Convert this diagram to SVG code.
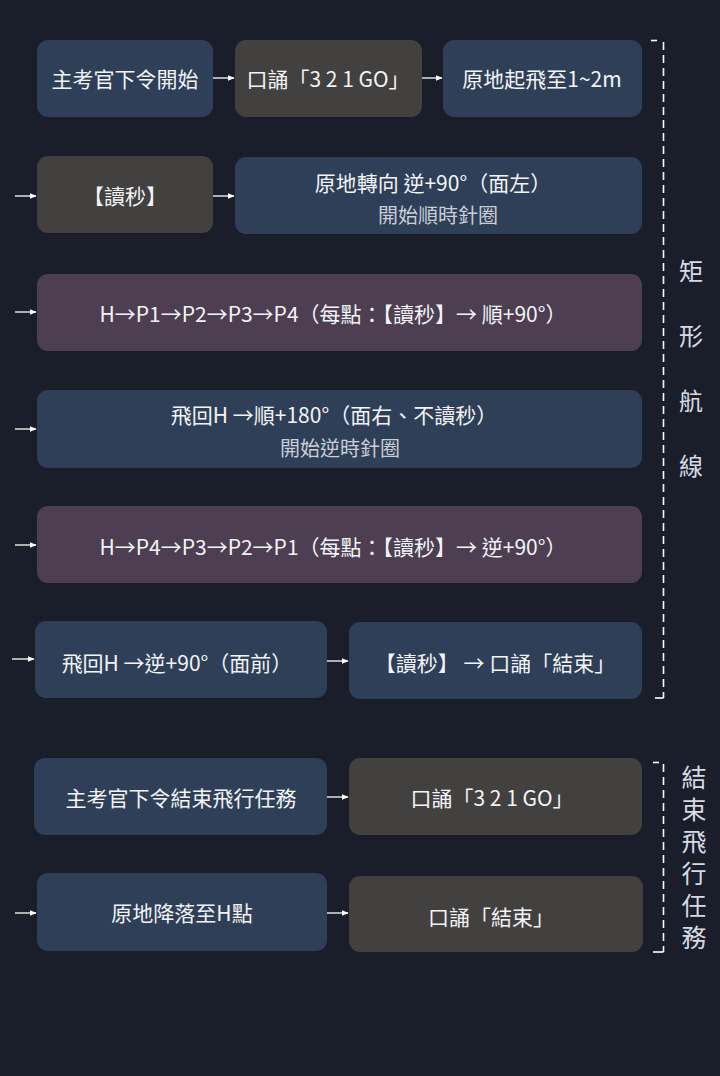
<svg xmlns="http://www.w3.org/2000/svg" width="720" height="1076" viewBox="0 0 720 1076">
<defs>
<marker id="ah" viewBox="0 0 10 10" refX="9" refY="5" markerWidth="7" markerHeight="7" markerUnits="userSpaceOnUse" orient="auto">
<path d="M0,1 L10,5 L0,9 z" fill="#ffffff"/>
</marker>
<style>
.b{fill:#2e3f57}
.g{fill:#434040}
.p{fill:#4d3f51}
text{font-family:"Microsoft JhengHei","Noto Sans CJK TC","Noto Sans",sans-serif;fill:#f2f4f7;font-size:21px;text-anchor:middle;dominant-baseline:central}
.sub{fill:#c9ced8;font-size:20px}
.vert{writing-mode:vertical-rl;text-anchor:start;dominant-baseline:auto;fill:#d6dae2}
.side{font-size:24px;letter-spacing:41px}
.side2{font-size:25px;letter-spacing:7px}
.c line{stroke:#ffffff;stroke-width:1.3;marker-end:url(#ah)}
.br{stroke:#ffffff;stroke-width:1.6;fill:none}
.dash{stroke-dasharray:8,5}
</style>
</defs>
<rect width="720" height="1076" fill="#1a1d2a"/>

<g id="n1"><rect class="b" x="37" y="40" width="176" height="77" rx="11"/><text x="125" y="78">主考官下令開始</text></g>
<g id="n2"><rect class="g" x="235" y="40" width="187" height="77" rx="11"/><text x="328" y="78">口誦「3 2 1 GO」</text></g>
<g id="n3"><rect class="b" x="443" y="40" width="199" height="77" rx="11"/><text x="542" y="78">原地起飛至1~2m</text></g>

<g id="n4"><rect class="g" x="37" y="156" width="176" height="77" rx="11"/><text x="125" y="195">【讀秒】</text></g>
<g id="n5"><rect class="b" x="235" y="157" width="407" height="77" rx="11"/><text x="433" y="182">原地轉向 逆+90°（面左）</text><text class="sub" x="438" y="214">開始順時針圈</text></g>

<g id="n6"><rect class="p" x="37" y="274" width="605" height="77" rx="11"/><text x="333" y="313">H→P1→P2→P3→P4（每點：【讀秒】→ 順+90°）</text></g>

<g id="n7"><rect class="b" x="37" y="390" width="605" height="78" rx="11"/><text x="334" y="414">飛回H →順+180°（面右、不讀秒）</text><text class="sub" x="340" y="447">開始逆時針圈</text></g>

<g id="n8"><rect class="p" x="37" y="506" width="605" height="77" rx="11"/><text x="333" y="546">H→P4→P3→P2→P1（每點：【讀秒】→ 逆+90°）</text></g>

<g id="n9"><rect class="b" x="35" y="621" width="292" height="77" rx="11"/><text x="177" y="662">飛回H →逆+90°（面前）</text></g>
<g id="n10"><rect class="b" x="349" y="622" width="293" height="77" rx="11"/><text x="495" y="662">【讀秒】 → 口誦「結束」</text></g>

<g id="n11"><rect class="b" x="34" y="758" width="293" height="77" rx="11"/><text x="181" y="797">主考官下令結束飛行任務</text></g>
<g id="n12"><rect class="g" x="349" y="758" width="293" height="77" rx="11"/><text x="492" y="797">口誦「3 2 1 GO」</text></g>

<g id="n13"><rect class="b" x="37" y="873" width="290" height="78" rx="11"/><text x="182" y="912">原地降落至H點</text></g>
<g id="n14"><rect class="g" x="349" y="876" width="294" height="76" rx="11"/><text x="491" y="916">口誦「結束」</text></g>

<g id="connectors" class="c">
<line x1="213" y1="78" x2="234" y2="78"/>
<line x1="422" y1="78" x2="442" y2="78"/>
<line x1="15" y1="196" x2="36" y2="196"/>
<line x1="213" y1="196" x2="234" y2="196"/>
<line x1="15" y1="312" x2="36" y2="312"/>
<line x1="15" y1="429" x2="36" y2="429"/>
<line x1="15" y1="545" x2="36" y2="545"/>
<line x1="12" y1="659" x2="34" y2="659"/>
<line x1="327" y1="661" x2="348" y2="661"/>
<line x1="327" y1="797" x2="348" y2="797"/>
<line x1="15" y1="913" x2="36" y2="913"/>
<line x1="327" y1="913" x2="348" y2="913"/>
</g>

<g id="bracket1">
<line class="br" x1="651" y1="40.5" x2="657" y2="40.5"/>
<line class="br dash" x1="663.5" y1="42" x2="663.5" y2="698"/>
<line class="br" x1="655" y1="698" x2="663.5" y2="698"/>
<text class="vert side" x="691" y="259">矩形航線</text>
</g>

<g id="bracket2">
<line class="br" x1="653" y1="762.5" x2="659" y2="762.5"/>
<line class="br dash" x1="663.5" y1="764" x2="663.5" y2="952"/>
<line class="br" x1="653" y1="952" x2="663.5" y2="952"/>
<text class="vert side2" x="694" y="765">結束飛行任務</text>
</g>
</svg>
